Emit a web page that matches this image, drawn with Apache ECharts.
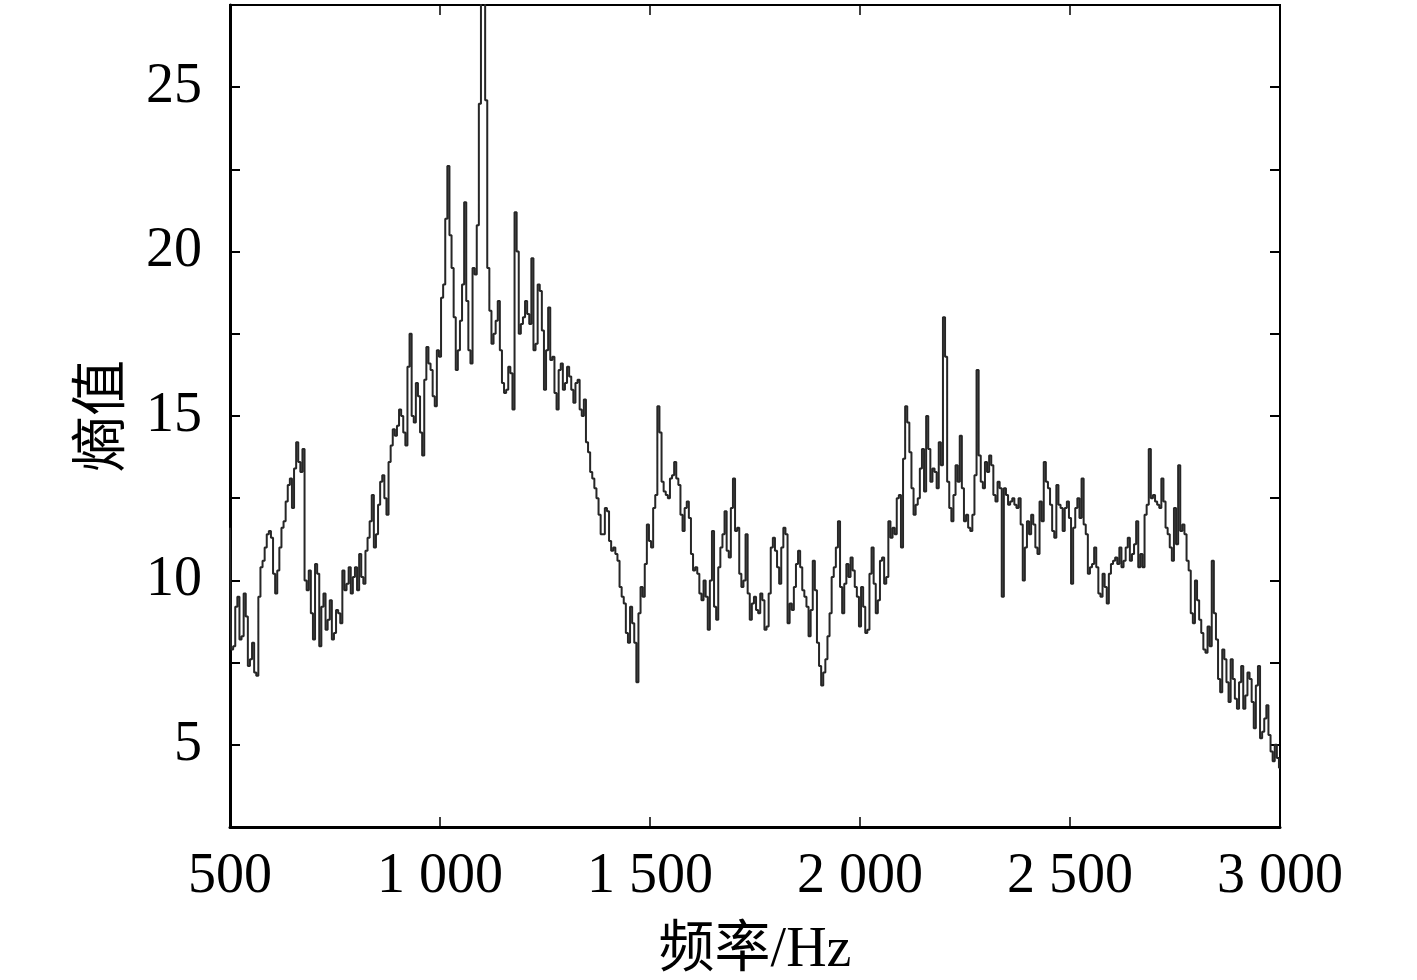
<!DOCTYPE html>
<html>
<head>
<meta charset="utf-8">
<script src="https://cdn.jsdelivr.net/npm/echarts@6/dist/echarts.min.js"></script>
<style>
  html, body { margin: 0; padding: 0; background: #fff; }
  #chart { width: 1417px; height: 980px; }
</style>
</head>
<body>
<div id="chart"></div>
<script>
// 频率采样：500 Hz 起，每 10 Hz 一个主点，另有 5 Hz 处的中间点
const freqStart = 500;
const freqStep = 10;

// 熵值：500, 510, 520 ... 3000 Hz
const entropy500 = [11.6, 8.0, 9.5, 8.3, 8.9, 7.6, 7.2, 9.5, 10.6, 11.4,
  11.3, 9.6, 11.0, 11.8, 12.9, 12.2, 14.2, 13.3, 10.0, 10.3,
  8.2, 10.2, 9.2, 8.5, 9.4, 8.4, 9.0, 10.3, 9.9, 9.6,
  10.4, 10.8, 9.9, 11.3, 12.6, 11.4, 13.0, 12.5, 13.6, 14.6,
  14.7, 15.0, 14.1, 17.5, 14.8, 15.6, 13.8, 17.1, 16.4, 15.3,
  16.8];
const entropy1000 = [19.0, 22.6, 19.5, 16.4, 17.9, 21.5, 17.0, 19.5, 20.8, 29.0,
  24.6, 18.2, 17.5, 18.5, 16.0, 15.8, 16.3, 21.2, 17.5, 18.0,
  18.1, 19.8, 17.2, 18.8, 15.8, 18.3, 16.8, 15.2, 16.6, 16.0,
  16.2, 15.4, 16.1, 15.0, 14.2, 13.3, 12.8, 12.0, 11.4, 12.1,
  10.9, 10.8, 9.8, 9.3, 8.1, 8.7, 6.9, 9.8, 10.5, 11.2];
const entropy1500 = [12.2, 15.3, 13.0, 12.6, 13.1, 13.6, 12.9, 11.5, 12.4, 10.8,
  10.4, 9.6, 10.0, 8.5, 11.5, 8.8, 11.0, 12.1, 10.7, 13.1,
  11.6, 9.8, 11.4, 8.8, 9.5, 9.0, 9.4, 8.6, 11.0, 10.9,
  9.9, 11.6, 8.7, 9.1, 10.5, 10.4, 9.5, 8.3, 10.6, 8.1,
  6.8, 7.6, 9.0, 10.4, 11.8, 9.0, 10.5, 10.7, 9.8, 8.6];
const entropy2000 = [9.2, 8.5, 11.0, 9.0, 10.6, 9.9, 11.8, 11.6, 12.5, 11.0,
  15.3, 13.9, 12.0, 12.5, 14.0, 15.0, 13.0, 13.3, 14.2, 18.0,
  13.0, 11.8, 13.5, 14.4, 11.8, 11.6, 12.0, 16.4, 13.0, 13.6,
  13.8, 12.6, 13.0, 9.5, 12.6, 12.4, 12.3, 12.5, 10.0, 11.8,
  12.0, 11.0, 12.4, 13.6, 12.8, 11.5, 12.9, 12.2, 12.2, 11.9];
const entropy2500 = [11.6, 12.5, 13.1, 11.4, 10.4, 11.0, 9.6, 10.2, 9.3, 10.5,
  10.7, 11.0, 10.6, 11.3, 10.8, 11.8, 10.8, 12.0, 14.0, 12.6,
  12.3, 13.1, 11.6, 11.0, 12.2, 13.5, 11.7, 10.6, 9.0, 10.0,
  8.8, 7.9, 8.6, 10.6, 8.2, 6.6, 7.6, 6.3, 7.0, 6.1,
  7.4, 6.5, 7.0, 5.5, 7.4, 5.4, 6.2, 4.8, 5.0, 4.3];

// 中间点：505, 515 ... 2995 Hz（图中快速起伏的另一侧）
const mid500 = [7.9, 9.2, 8.2, 9.6, 7.4, 8.1, 7.1, 10.4, 11.0, 11.5,
  10.2, 10.3, 11.6, 12.4, 13.1, 13.4, 13.6, 14.0, 9.7, 9.0,
  10.5, 8.0, 9.6, 8.8, 8.2, 9.1, 8.7, 9.7, 10.4, 10.1,
  9.7, 10.1, 10.9, 11.8, 11.0, 12.3, 13.2, 12.0, 14.1, 14.4,
  15.2, 14.5, 16.5, 15.0, 16.0, 14.5, 16.1, 16.6, 15.6, 17.0];
const mid1000 = [18.6, 21.0, 20.5, 18.0, 17.0, 19.0, 18.5, 16.6, 19.3, 24.5,
  29.0, 19.5, 17.2, 17.9, 17.0, 15.7, 16.5, 15.2, 20.0, 17.8,
  18.5, 17.8, 17.0, 19.0, 17.6, 17.0, 16.7, 15.7, 16.4, 15.8,
  16.5, 15.8, 16.0, 15.2, 15.5, 13.9, 13.1, 12.5, 11.4, 12.2,
  11.2, 11.0, 10.6, 9.5, 8.4, 9.2, 8.1, 9.0, 9.5, 11.7];
const mid1500 = [11.0, 12.6, 14.5, 12.7, 12.5, 13.2, 13.1, 12.0, 12.2, 11.9,
  10.3, 10.2, 9.4, 9.5, 10.0, 9.2, 10.4, 11.4, 10.9, 12.2,
  11.5, 10.2, 10.0, 9.6, 9.3, 9.1, 9.6, 8.5, 9.6, 11.3,
  10.4, 11.0, 11.4, 9.3, 9.8, 10.9, 9.7, 9.2, 9.1, 9.7,
  7.4, 7.2, 8.3, 10.1, 11.0, 9.8, 9.9, 10.1, 10.3, 9.5];
const mid2000 = [9.8, 8.4, 10.2, 9.9, 9.4, 10.7, 10.1, 11.3, 11.4, 12.6,
  13.7, 14.8, 12.8, 12.3, 13.4, 12.7, 14.0, 13.4, 12.8, 13.5,
  16.8, 12.2, 12.6, 13.0, 12.8, 12.0, 11.5, 13.2, 13.8, 12.8,
  13.3, 13.5, 12.4, 12.8, 12.8, 12.3, 12.5, 12.2, 11.7, 11.0,
  11.4, 11.7, 10.8, 11.8, 13.0, 12.3, 11.3, 12.3, 11.5, 12.4];
const mid2500 = [9.9, 12.2, 11.9, 11.7, 10.2, 10.5, 10.4, 9.5, 9.8, 10.2,
  10.6, 10.5, 10.4, 11.0, 10.6, 11.1, 10.4, 10.4, 12.3, 12.5,
  12.4, 12.2, 12.4, 11.4, 10.6, 11.1, 11.5, 11.4, 10.3, 8.7,
  9.4, 8.4, 7.8, 8.0, 9.0, 7.0, 7.9, 6.9, 7.6, 6.4,
  6.9, 6.1, 7.2, 6.3, 6.8, 5.2, 5.8, 5.3, 4.5, 4.6];

const entropy = [].concat(entropy500, entropy1000, entropy1500, entropy2000, entropy2500);
const entropyMid = [].concat(mid500, mid1000, mid1500, mid2000, mid2500);

const seriesData = [];
entropy.forEach((v, i) => {
  const f = freqStart + i * freqStep;
  seriesData.push([f, v]);
  if (i < entropyMid.length) {
    seriesData.push([f + freqStep / 2, entropyMid[i]]);
  }
});

const chart = echarts.init(document.getElementById('chart'));

const labelFont = {
  fontFamily: '"Liberation Serif", "Times New Roman", serif',
  fontSize: 56,
  color: '#000'
};
const nameFont = {
  fontFamily: '"Liberation Serif", "Noto Sans CJK SC", serif',
  fontSize: 56,
  color: '#000'
};

// 千分位用空格分隔，如 1 000
function thousand(v) {
  const s = String(v);
  return s.length > 3 ? s.slice(0, s.length - 3) + ' ' + s.slice(-3) : s;
}

const option = {
  animation: false,
  backgroundColor: '#fff',
  grid: {
    left: 230,
    right: 137,
    top: 5,
    bottom: 153,
    outerBoundsMode: 'none',
    show: true,
    borderColor: '#000',
    borderWidth: 2
  },
  xAxis: [
    {
      type: 'value',
      min: 500,
      max: 3000,
      interval: 500,
      name: '频率/Hz',
      nameLocation: 'middle',
      nameGap: 96,
      nameTextStyle: nameFont,
      axisLine: { lineStyle: { color: '#000', width: 3 } },
      axisTick: { inside: true, length: 10, lineStyle: { color: '#000', width: 1.5 } },
      axisLabel: Object.assign({ margin: 22, formatter: thousand }, labelFont),
      splitLine: { show: false }
    },
    {
      type: 'value',
      position: 'top',
      min: 500,
      max: 3000,
      interval: 500,
      axisLine: { lineStyle: { color: '#000', width: 2 } },
      axisTick: { inside: true, length: 10, lineStyle: { color: '#000', width: 1.5 } },
      axisLabel: { show: false },
      splitLine: { show: false }
    }
  ],
  yAxis: [
    {
      type: 'value',
      min: 2.5,
      max: 27.5,
      interval: 2.5,
      name: '熵值',
      nameLocation: 'middle',
      nameGap: 98,
      nameRotate: 90,
      nameTextStyle: nameFont,
      axisLine: { show: true, lineStyle: { color: '#000', width: 3 } },
      axisTick: { inside: true, length: 10, lineStyle: { color: '#000', width: 2 } },
      axisLabel: Object.assign({
        margin: 28,
        formatter: v => (v % 5 === 0 ? String(v) : '')
      }, labelFont),
      splitLine: { show: false }
    },
    {
      type: 'value',
      position: 'right',
      min: 2.5,
      max: 27.5,
      interval: 2.5,
      axisLine: { show: true, lineStyle: { color: '#000', width: 2 } },
      axisTick: { inside: true, length: 10, lineStyle: { color: '#000', width: 2 } },
      axisLabel: { show: false },
      splitLine: { show: false }
    }
  ],
  series: [
    {
      type: 'line',
      data: seriesData,
      step: 'middle',
      showSymbol: false,
      clip: true,
      lineStyle: { color: '#262626', width: 2 }
    }
  ]
};

chart.setOption(option);
</script>
</body>
</html>
